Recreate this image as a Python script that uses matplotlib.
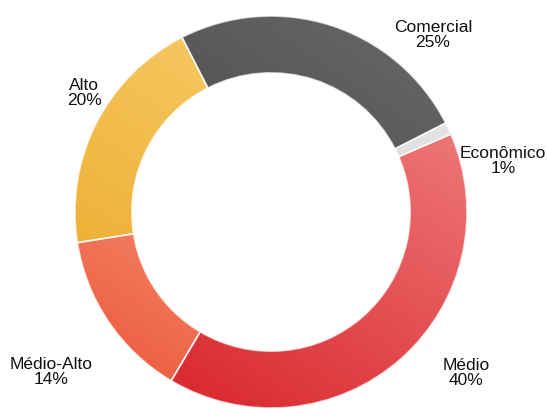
import numpy as np
import matplotlib
matplotlib.use("Agg")
import matplotlib.pyplot as plt
from matplotlib.colors import to_rgb

plt.rcParams['font.family'] = ['Liberation Sans', 'DejaVu Sans']

# Market share by segment
categories = ["Comercial", "Econômico", "Médio", "Médio-Alto", "Alto"]
shares = [25, 1, 40, 14, 20]

# two-tone gradient for each segment: (light, dark)
palette = [
    ("#636363", "#3e3e3e"),
    ("#e6e6e6", "#c8c8c8"),
    ("#ef7c7c", "#da2a30"),
    ("#fbbca4", "#ee6244"),
    ("#f8d070", "#ecab2c"),
]
# label placement in pixel coordinates (x, y from top)
label_pos = [(433, 35), (503, 161), (466, 373), (51, 372), (84, 93)]

W, H = 547, 417
fig = plt.figure(figsize=(W / 100, H / 100), dpi=100)
ax = fig.add_axes([0, 0, 1, 1])

cx, cy = 271, H - 212
R = 196
ring = 0.29

wedges, _ = ax.pie(
    shares, center=(cx, cy), radius=R, startangle=117, counterclock=False,
    wedgeprops=dict(width=R * ring, edgecolor=(1, 1, 1, 0.7), linewidth=1.2),
    frame=True,
)
ax.set_xlim(0, W)
ax.set_ylim(0, H)
ax.set_aspect("equal")
ax.axis("off")

# gradient fill clipped to every wedge
yy, xx = np.mgrid[0:H, 0:W]
dx, dy = xx - cx, (H - yy) - cy
t = (dx * 0.55 + dy * 0.83) / R
t = np.clip((t + 1) / 2, 0, 1)
for w, (light, dark) in zip(wedges, palette):
    c0, c1 = np.array(to_rgb(dark)), np.array(to_rgb(light))
    img = c0[None, None, :] * (1 - t[..., None]) + c1[None, None, :] * t[..., None]
    im = ax.imshow(img, extent=(0, W, 0, H), origin="upper", zorder=2,
                   interpolation="bilinear")
    im.set_clip_path(w)
    w.set_facecolor("none")
    w.set_zorder(3)

for name, val, (lx, ly) in zip(categories, shares, label_pos):
    ax.text(lx, H - ly, f"{name}\n{val}%", ha="center", va="center",
            fontsize=12.5, color="#111111", linespacing=1.08, zorder=5)

fig.savefig("out.png", dpi=100)
